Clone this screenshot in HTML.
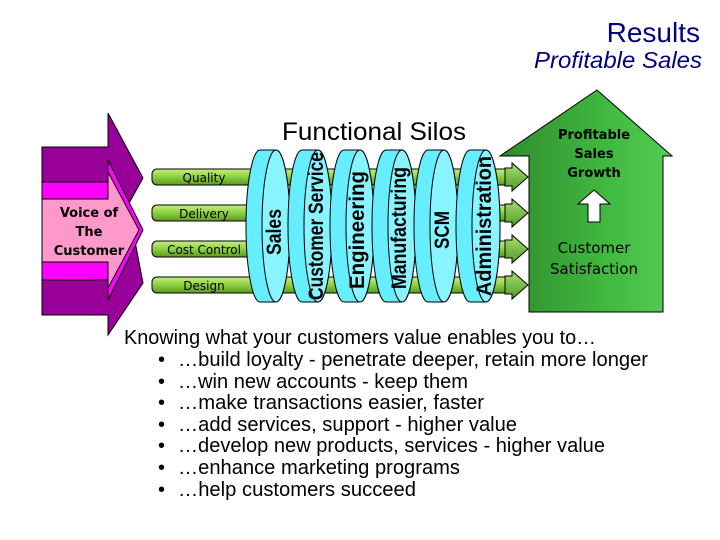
<!DOCTYPE html>
<html><head><meta charset="utf-8"><style>
html,body{margin:0;padding:0;background:#fff;}
svg{display:block}
</style></head><body>
<svg width="720" height="540" viewBox="0 0 720 540" xmlns="http://www.w3.org/2000/svg" font-family="Liberation Sans, sans-serif">
<defs>
<linearGradient id="tube" x1="0" y1="0" x2="0" y2="1">
<stop offset="0" stop-color="#c8f080"/><stop offset="0.5" stop-color="#8cd040"/><stop offset="1" stop-color="#5a9a20"/></linearGradient>
<linearGradient id="garr" x1="0" y1="0" x2="1" y2="0">
<stop offset="0" stop-color="#2e8a2e"/><stop offset="0.6" stop-color="#3fb83f"/><stop offset="1" stop-color="#55cc55"/></linearGradient>
<linearGradient id="gsm" x1="0" y1="0" x2="0" y2="1">
<stop offset="0" stop-color="#a8e070"/><stop offset="1" stop-color="#4f9a2a"/></linearGradient>
</defs>
<text x="700" y="42" font-size="28" fill="#000080" text-anchor="end">Results</text>
<text x="534" y="68" font-size="23" font-style="italic" fill="#000080" textLength="168" lengthAdjust="spacingAndGlyphs">Profitable Sales</text>

<polygon points="529,312 529,156 500,156 597,90 672,156 663,156 663,312" fill="url(#garr)" stroke="#000" stroke-width="1"/>
<text font-family="DejaVu Sans, sans-serif" font-weight="bold" font-size="13" text-anchor="middle" fill="#000">
<tspan x="594" y="139">Profitable</tspan><tspan x="594" y="158">Sales</tspan><tspan x="594" y="177">Growth</tspan></text>
<polygon points="588,222 588,204 578,204 594,190 610,204 600,204 600,222" fill="#fff" stroke="#000"/>
<text font-family="DejaVu Sans, sans-serif" font-size="15" text-anchor="middle" fill="#000">
<tspan x="594" y="253">Customer</tspan><tspan x="594" y="274">Satisfaction</tspan></text>

<polygon points="42,147 108,147 108,113 143,178 128,205 143,283 108,335 108,315 42,315" fill="#990099" stroke="#000"/>
<polygon points="42,182 108,182 108,160 143,230 108,300 108,280 42,280" fill="#ff00ff" stroke="#000"/>
<polygon points="42,199 108,199 108,172 139,230 108,288 108,262 42,262" fill="#ff99cc" stroke="#000"/>
<text font-family="DejaVu Sans, sans-serif" font-weight="bold" font-size="13" text-anchor="middle" fill="#000">
<tspan x="89" y="217">Voice of</tspan><tspan x="89" y="236">The</tspan><tspan x="89" y="255">Customer</tspan></text>

<g stroke="#000" stroke-width="1">
<rect x="152" y="169" width="360" height="16" rx="5" fill="url(#tube)"/>
<rect x="152" y="205" width="360" height="16" rx="5" fill="url(#tube)"/>
<rect x="152" y="241" width="360" height="16" rx="5" fill="url(#tube)"/>
<rect x="152" y="277" width="360" height="16" rx="5" fill="url(#tube)"/>
</g>
<g font-family="DejaVu Sans, sans-serif" font-size="12" text-anchor="middle" fill="#000">
<text x="204" y="182">Quality</text><text x="204" y="218">Delivery</text><text x="204" y="254">Cost Control</text><text x="204" y="290">Design</text>
</g>
<g fill="url(#gsm)" stroke="#000">
<polygon points="505,168 512,168 512,163 528,177 512,191 512,186 505,186"/>
<polygon points="505,204 512,204 512,199 528,213 512,227 512,222 505,222"/>
<polygon points="505,240 512,240 512,235 528,249 512,263 512,258 505,258"/>
<polygon points="505,276 512,276 512,271 528,285 512,299 512,294 505,294"/>
</g>

<g stroke="#000" stroke-width="1" fill="#66eeff">
<path d="M260,150 L276,150 A14,76 0 0 1 276,302 L260,302 A14,76 0 0 1 260,150 Z"/><ellipse cx="276" cy="226" rx="14" ry="76" fill="#88f4ff"/>
<path d="M302,150 L318,150 A14,76 0 0 1 318,302 L302,302 A14,76 0 0 1 302,150 Z"/><ellipse cx="318" cy="226" rx="14" ry="76" fill="#88f4ff"/>
<path d="M344,150 L360,150 A14,76 0 0 1 360,302 L344,302 A14,76 0 0 1 344,150 Z"/><ellipse cx="360" cy="226" rx="14" ry="76" fill="#88f4ff"/>
<path d="M386,150 L402,150 A14,76 0 0 1 402,302 L386,302 A14,76 0 0 1 386,150 Z"/><ellipse cx="402" cy="226" rx="14" ry="76" fill="#88f4ff"/>
<path d="M428,150 L444,150 A14,76 0 0 1 444,302 L428,302 A14,76 0 0 1 428,150 Z"/><ellipse cx="444" cy="226" rx="14" ry="76" fill="#88f4ff"/>
<path d="M470,150 L486,150 A14,76 0 0 1 486,302 L470,302 A14,76 0 0 1 470,150 Z"/><ellipse cx="486" cy="226" rx="14" ry="76" fill="#88f4ff"/>
</g>
<g font-weight="bold" font-size="21" fill="#000" text-anchor="middle">
<text transform="translate(281,232) rotate(-90)" textLength="46" lengthAdjust="spacingAndGlyphs">Sales</text>
<text transform="translate(323,226) rotate(-90)" textLength="148" lengthAdjust="spacingAndGlyphs">Customer Service</text>
<text transform="translate(364,230) rotate(-90)" textLength="118" lengthAdjust="spacingAndGlyphs">Engineering</text>
<text transform="translate(406,228) rotate(-90)" textLength="122" lengthAdjust="spacingAndGlyphs">Manufacturing</text>
<text transform="translate(449,230) rotate(-90)" textLength="38" lengthAdjust="spacingAndGlyphs">SCM</text>
<text transform="translate(491,226) rotate(-90)" textLength="140" lengthAdjust="spacingAndGlyphs">Administration</text>
</g>
<text x="282" y="140" font-size="25" fill="#000" textLength="184" lengthAdjust="spacingAndGlyphs">Functional Silos</text>

<g font-size="20" fill="#000">
<text x="124" y="344" textLength="472" lengthAdjust="spacingAndGlyphs">Knowing what your customers value enables you to…</text>
<text x="158" y="366">•</text><text x="178" y="366" textLength="470" lengthAdjust="spacingAndGlyphs">…build loyalty - penetrate deeper, retain more longer</text>
<text x="158" y="388">•</text><text x="178" y="388" textLength="290" lengthAdjust="spacingAndGlyphs">…win new accounts - keep them</text>
<text x="158" y="409">•</text><text x="178" y="409" textLength="306" lengthAdjust="spacingAndGlyphs">…make transactions easier, faster</text>
<text x="158" y="431">•</text><text x="178" y="431" textLength="339" lengthAdjust="spacingAndGlyphs">…add services, support - higher value</text>
<text x="158" y="452">•</text><text x="178" y="452" textLength="427" lengthAdjust="spacingAndGlyphs">…develop new products, services - higher value</text>
<text x="158" y="474">•</text><text x="178" y="474" textLength="282" lengthAdjust="spacingAndGlyphs">…enhance marketing programs</text>
<text x="158" y="496">•</text><text x="178" y="496" textLength="238" lengthAdjust="spacingAndGlyphs">…help customers succeed</text>
</g>
</svg>
</body></html>
